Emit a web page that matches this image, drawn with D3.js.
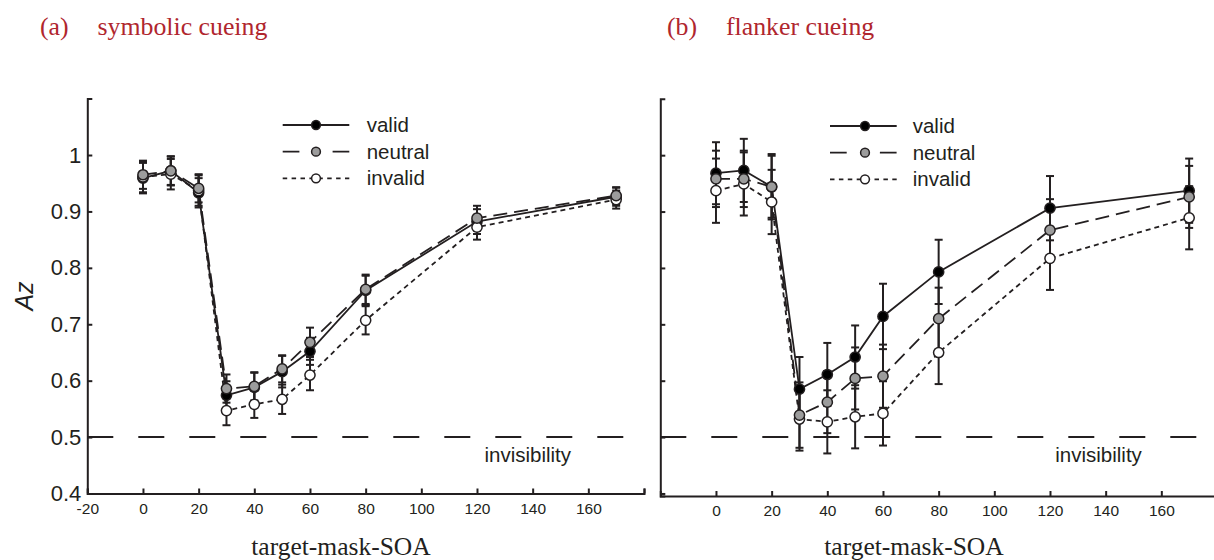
<!DOCTYPE html>
<html>
<head>
<meta charset="utf-8">
<script src="https://cdn.jsdelivr.net/npm/d3@7"></script>
<style>
  html, body { margin: 0; padding: 0; background: #fff; }
  svg { display: block; }
</style>
</head>
<body>
<script>
// ---------------- DATA ----------------
const soa = [0, 10, 20, 30, 40, 50, 60, 80, 120, 170];
const seriesNames = ["valid", "neutral", "invalid"];

// (a) symbolic cueing
const aValid      = [0.959, 0.972, 0.933, 0.574, 0.588, 0.616, 0.652, 0.760, 0.882, 0.926];
const aNeutral    = [0.965, 0.972, 0.941, 0.586, 0.590, 0.621, 0.668, 0.762, 0.888, 0.928];
const aInvalid    = [0.961, 0.966, 0.937, 0.547, 0.558, 0.567, 0.610, 0.707, 0.872, 0.921];
const aValidErr   = [0.027, 0.026, 0.026, 0.025, 0.026, 0.028, 0.024, 0.026, 0.022, 0.016];
const aNeutralErr = [0.025, 0.025, 0.025, 0.025, 0.025, 0.024, 0.026, 0.026, 0.022, 0.015];
const aInvalidErr = [0.027, 0.027, 0.027, 0.026, 0.024, 0.026, 0.027, 0.025, 0.022, 0.016];

// (b) flanker cueing
const bValid      = [0.968, 0.973, 0.944, 0.585, 0.611, 0.642, 0.714, 0.793, 0.906, 0.937];
const bNeutral    = [0.958, 0.958, 0.944, 0.539, 0.562, 0.604, 0.608, 0.710, 0.867, 0.926];
const bInvalid    = [0.937, 0.949, 0.917, 0.532, 0.527, 0.536, 0.542, 0.650, 0.817, 0.889];
const bValidErr   = [0.055, 0.056, 0.058, 0.057, 0.056, 0.056, 0.058, 0.057, 0.057, 0.057];
const bNeutralErr = [0.050, 0.050, 0.055, 0.058, 0.055, 0.055, 0.056, 0.055, 0.055, 0.055];
const bInvalidErr = [0.057, 0.056, 0.057, 0.056, 0.056, 0.056, 0.057, 0.056, 0.056, 0.056];

const chanceLevel = 0.5;
const chanceLabel = "invisibility";

const xTicksA = [-20, 0, 20, 40, 60, 80, 100, 120, 140, 160, 180];
const xTickLabelsA = ["-20", "0", "20", "40", "60", "80", "100", "120", "140", "160", ""];
const xTicksB = [0, 20, 40, 60, 80, 100, 120, 140, 160];
const xTickLabelsB = ["0", "20", "40", "60", "80", "100", "120", "140", "160"];
const yTicks = [0.4, 0.5, 0.6, 0.7, 0.8, 0.9, 1.0];
const yTickLabels = ["0.4", "0.5", "0.6", "0.7", "0.8", "0.9", "1"];

const panelLetters = ["(a)", "(b)"];
const panelTitles = ["symbolic cueing", "flanker cueing"];
const xTitle = "target-mask-SOA";
const yTitle = "Az";

// ---------------- STYLE ----------------
const INK = "#231f20";
const RED = "#b0262e";
const SANS = "'Liberation Sans', Arial, Helvetica, sans-serif";
const SERIF = "'Liberation Serif', 'Times New Roman', serif";
const styles = {
  valid:   { fill: "#000000", dash: null },
  neutral: { fill: "#9c9c9c", dash: "14,7" },
  invalid: { fill: "#ffffff", dash: "5,4" }
};
const legendDash = { valid: null, neutral: "16.7,33.2,16.7", invalid: "4.5,4.4" };

const W = 1214, H = 560;
const svg = d3.select("body").append("svg")
  .attr("width", W).attr("height", H)
  .attr("viewBox", `0 0 ${W} ${H}`);

const panels = [
  {
    x: d3.scaleLinear().domain([-20, 180]).range([87.3, 644]),
    y: d3.scaleLinear().domain([0.4, 1.1]).range([493.5, 98.6]),
    xTicks: xTicksA, xLabels: xTickLabelsA, yLabels: true,
    series: { valid: [aValid, aValidErr], neutral: [aNeutral, aNeutralErr], invalid: [aInvalid, aInvalidErr] },
    legend: { x0: 282.7, x1: 349.3, mx: 316, tx: 366.7, ys: [125, 151.7, 178.3] },
    chanceTextX: 153.8,
    letterX: 40, titleX: 97.5, xTitleX: 341
  },
  {
    x: d3.scaleLinear().domain([-20, 180]).range([660.3, 1217]),
    y: d3.scaleLinear().domain([0.3955, 1.1]).range([496, 98.8]),
    xTicks: xTicksB, xLabels: xTickLabelsB, yLabels: false,
    series: { valid: [bValid, bValidErr], neutral: [bNeutral, bNeutralErr], invalid: [bInvalid, bInvalidErr] },
    legend: { x0: 830, x1: 896.7, mx: 865, tx: 912.7, ys: [126, 152.7, 179.3] },
    chanceTextX: 153,
    letterX: 667, titleX: 726, xTitleX: 914
  }
];

panels.forEach((p, pi) => {
  const g = svg.append("g");
  const x = p.x, y = p.y;
  const x0 = x.range()[0];
  const yBottom = y.range()[0];

  // panel heading
  g.append("text").attr("x", p.letterX).attr("y", 35)
    .attr("font-family", SERIF).attr("font-size", 25.8).attr("fill", RED)
    .text(panelLetters[pi]);
  g.append("text").attr("x", p.titleX).attr("y", 35)
    .attr("font-family", SERIF).attr("font-size", 25.8).attr("fill", RED)
    .text(panelTitles[pi]);

  // chance line
  g.append("line")
    .attr("x1", x0).attr("x2", Math.min(x.range()[1], W))
    .attr("y1", y(chanceLevel)).attr("y2", y(chanceLevel))
    .attr("stroke", INK).attr("stroke-width", 2)
    .attr("stroke-dasharray", "26,25");
  g.append("text")
    .attr("x", x(p.chanceTextX)).attr("y", 462)
    .attr("text-anchor", "end")
    .attr("font-family", SANS).attr("font-size", 20.5).attr("fill", INK)
    .text(chanceLabel);

  // axes
  const xAxis = d3.axisBottom(x).tickValues(p.xTicks)
    .tickFormat((d, i) => p.xLabels[i])
    .tickSizeInner(-5).tickSizeOuter(-5).tickPadding(9);
  const gx = g.append("g").attr("transform", `translate(0,${yBottom})`).call(xAxis);
  gx.selectAll("text").attr("font-family", SANS).attr("font-size", 15.5).attr("fill", INK);

  const yAxis = d3.axisLeft(y).tickValues(yTicks)
    .tickFormat((d, i) => p.yLabels ? yTickLabels[i] : "")
    .tickSizeInner(-5).tickSizeOuter(-5).tickPadding(6);
  const gy = g.append("g").attr("transform", `translate(${x0},0)`).call(yAxis);
  gy.selectAll("text").attr("font-family", SANS).attr("font-size", 22).attr("fill", INK);

  [gx, gy].forEach(a => {
    a.select(".domain").attr("stroke", INK).attr("stroke-width", 2);
    a.selectAll(".tick line").attr("stroke", INK).attr("stroke-width", 2);
  });

  // x title
  g.append("text").attr("x", p.xTitleX).attr("y", 555)
    .attr("text-anchor", "middle")
    .attr("font-family", SERIF).attr("font-size", 25.5).attr("fill", INK)
    .text(xTitle);

  const line = d3.line().x((d, i) => x(soa[i])).y(d => y(d));

  // lines
  seriesNames.forEach(name => {
    const [vals] = p.series[name];
    g.append("path").datum(vals)
      .attr("d", line)
      .attr("fill", "none")
      .attr("stroke", INK).attr("stroke-width", 1.8)
      .attr("stroke-dasharray", styles[name].dash);
  });

  // error bars
  seriesNames.forEach(name => {
    const [vals, errs] = p.series[name];
    const eb = g.append("g").attr("stroke", INK).attr("stroke-width", 2).attr("fill", "none");
    vals.forEach((v, i) => {
      const cx = x(soa[i]);
      const yt = y(v + errs[i]), yb = y(v - errs[i]);
      eb.append("line").attr("x1", cx).attr("x2", cx).attr("y1", yt).attr("y2", yb);
      eb.append("line").attr("x1", cx - 4).attr("x2", cx + 4).attr("y1", yt).attr("y2", yt);
      eb.append("line").attr("x1", cx - 4).attr("x2", cx + 4).attr("y1", yb).attr("y2", yb);
    });
  });

  // markers
  ["valid", "invalid", "neutral"].forEach(name => {
    const [vals] = p.series[name];
    g.append("g").selectAll("circle").data(vals).join("circle")
      .attr("cx", (d, i) => x(soa[i])).attr("cy", d => y(d))
      .attr("r", 5.1)
      .attr("fill", styles[name].fill)
      .attr("stroke", INK).attr("stroke-width", 1.5);
  });

  // legend
  const L = p.legend;
  seriesNames.forEach((name, k) => {
    const ly = L.ys[k];
    g.append("line").attr("x1", L.x0).attr("x2", L.x1).attr("y1", ly).attr("y2", ly)
      .attr("stroke", INK).attr("stroke-width", 1.8)
      .attr("stroke-dasharray", legendDash[name]);
    g.append("circle").attr("cx", L.mx).attr("cy", ly).attr("r", 4.4)
      .attr("fill", styles[name].fill).attr("stroke", INK).attr("stroke-width", 1.5);
    g.append("text").attr("x", L.tx).attr("y", ly).attr("dy", "0.35em")
      .attr("font-family", SANS).attr("font-size", 20.5).attr("fill", INK)
      .text(name);
  });
});

// y title
svg.append("text")
  .attr("transform", "translate(33,296) rotate(-90)")
  .attr("text-anchor", "middle")
  .attr("font-family", SANS).attr("font-style", "italic")
  .attr("font-size", 25).attr("fill", INK)
  .text(yTitle);
</script>
</body>
</html>
